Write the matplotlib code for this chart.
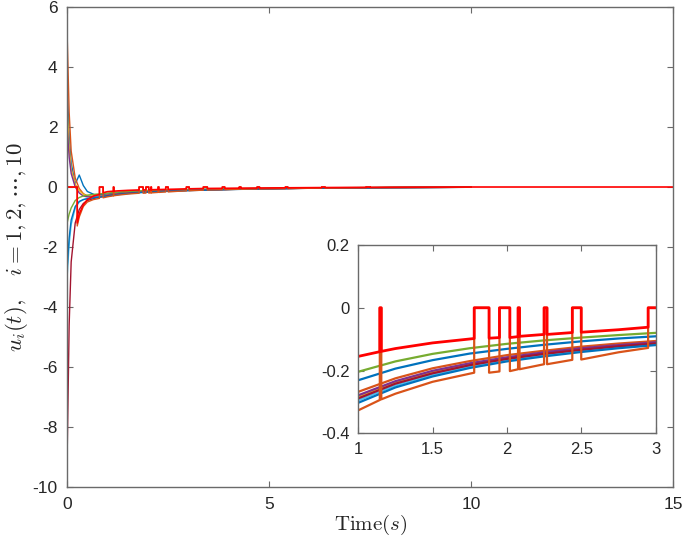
import numpy as np
import matplotlib
matplotlib.use("Agg")
import matplotlib.pyplot as plt

plt.rcParams['font.family'] = ['Liberation Sans', 'DejaVu Sans']
plt.rcParams['mathtext.fontset'] = 'cm'
plt.rcParams['axes.unicode_minus'] = False

# common time grid for the smooth agent inputs
t_grid = [0, 0.05, 0.1, 0.2, 0.3, 0.4, 0.5, 0.7, 1.0, 1.25, 1.5, 1.75, 2.0,
          2.25, 2.5, 2.75, 3.0, 4.0, 5.0, 6.0, 8.0, 10.0]

u_blue = [3.4, 1.7, 0.8, 0.1, 0.4, 0.05, -0.15, -0.27, -0.231, -0.194, -0.167, -0.146, -0.131,
          -0.118, -0.107, -0.098, -0.091, -0.065, -0.046, -0.032, -0.016, -0.007]
u_orange = [5.1, 2.5, 1.2, 0.3, -0.05, -0.22, -0.3, -0.32, -0.268, -0.225, -0.193, -0.170, -0.151,
            -0.137, -0.124, -0.114, -0.106, -0.075, -0.054, -0.038, -0.019, -0.008]
u_yellow = [2.6, 1.3, 0.6, 0.1, -0.12, -0.24, -0.3, -0.32, -0.284, -0.238, -0.205, -0.180, -0.160,
            -0.145, -0.132, -0.121, -0.112, -0.080, -0.057, -0.040, -0.020, -0.009]
u_purple = [2.0, 1.0, 0.45, 0.0, -0.2, -0.3, -0.33, -0.33, -0.279, -0.234, -0.201, -0.177, -0.158,
            -0.142, -0.129, -0.119, -0.110, -0.078, -0.056, -0.039, -0.020, -0.008]
u_green = [-1.2, -0.9, -0.7, -0.45, -0.35, -0.3, -0.27, -0.24, -0.204, -0.171, -0.147, -0.129, -0.115,
           -0.104, -0.095, -0.087, -0.080, -0.057, -0.041, -0.029, -0.014, -0.006]
u_lightblue = [-3.0, -1.9, -1.25, -0.7, -0.5, -0.42, -0.38, -0.34, -0.295, -0.248, -0.213, -0.187, -0.167,
               -0.150, -0.137, -0.126, -0.116, -0.083, -0.059, -0.041, -0.021, -0.009]
u_darkred = [-9.0, -4.6, -2.5, -1.2, -0.75, -0.55, -0.45, -0.37, -0.289, -0.242, -0.209, -0.183, -0.163,
             -0.147, -0.134, -0.123, -0.114, -0.081, -0.058, -0.040, -0.020, -0.009]
u_blue2 = [-2.7, -1.7, -1.1, -0.65, -0.48, -0.42, -0.39, -0.35, -0.303, -0.254, -0.219, -0.192, -0.171,
           -0.155, -0.141, -0.129, -0.119, -0.085, -0.061, -0.042, -0.021, -0.009]

# agents whose input is switched to zero on some intervals (read point by point)
t_orange2 = [0, 0.25, 0.25, 0.3, 0.4, 0.5, 0.65, 0.8, 0.8, 0.89, 0.89, 1.0, 1.145, 1.145, 1.155, 1.155,
             1.25, 1.5, 1.78, 1.78, 1.88, 1.88, 1.95, 1.95, 2.02, 2.02, 2.075, 2.075, 2.085, 2.085,
             2.25, 2.25, 2.27, 2.27, 2.44, 2.44, 2.5, 2.5, 2.75, 2.95, 2.95, 3.02, 3.02,
             3.37, 3.37, 3.47, 3.47, 3.84, 3.84, 3.9, 3.9, 4.26, 4.26, 4.3, 4.3, 4.7, 4.7, 4.76, 4.76,
             5.4, 5.4, 5.46, 5.46, 6.3, 6.3, 6.38, 6.38, 7.4, 7.4, 7.5, 7.5, 8.0, 10.0]
u_orange2 = [0, 0, -1.3, -1.0, -0.65, -0.5, -0.42, -0.38, 0, 0, -0.36, -0.327, -0.294, 0, 0, -0.292,
             -0.274, -0.236, -0.207, 0, 0, -0.207, -0.203, 0, 0, -0.202, -0.196, 0, 0, -0.196,
             -0.18, 0, 0, -0.18, -0.166, 0, 0, -0.165, -0.142, -0.128, 0, 0, -0.125,
             -0.105, 0, 0, -0.1, -0.088, 0, 0, -0.086, -0.076, 0, 0, -0.075, -0.066, 0, 0, -0.065,
             -0.052, 0, 0, -0.051, -0.038, 0, 0, -0.037, -0.025, 0, 0, -0.022, -0.018, -0.008]

t_red = [0, 0.25, 0.25, 0.3, 0.4, 0.5, 0.65, 0.8, 0.8, 0.89, 0.89, 1.0, 1.145, 1.145, 1.155, 1.155,
         1.25, 1.5, 1.78, 1.78, 1.88, 1.88, 1.95, 1.95, 2.02, 2.02, 2.075, 2.075, 2.085, 2.085,
         2.25, 2.25, 2.27, 2.27, 2.44, 2.44, 2.5, 2.5, 2.75, 2.95, 2.95, 3.02, 3.02,
         3.37, 3.37, 3.47, 3.47, 3.84, 3.84, 3.9, 3.9, 4.26, 4.26, 4.3, 4.3, 4.7, 4.7, 4.76, 4.76,
         5.4, 5.4, 5.46, 5.46, 6.3, 6.3, 6.38, 6.38, 7.4, 7.4, 7.5, 7.5, 9.0, 10.0, 15.0]
u_red = [0, 0, -1.2, -0.9, -0.6, -0.42, -0.3, -0.25, 0, 0, -0.19, -0.155, -0.14, 0, 0, -0.139,
         -0.13, -0.112, -0.098, 0, 0, -0.097, -0.095, 0, 0, -0.095, -0.092, 0, 0, -0.091,
         -0.085, 0, 0, -0.085, -0.079, 0, 0, -0.078, -0.07, -0.062, 0, 0, -0.06,
         -0.05, 0, 0, -0.048, -0.044, 0, 0, -0.043, -0.039, 0, 0, -0.038, -0.034, 0, 0, -0.033,
         -0.027, 0, 0, -0.026, -0.019, 0, 0, -0.018, -0.011, 0, 0, -0.01, -0.004, 0, 0]

smooth_series = [u_blue, u_orange, u_yellow, u_purple, u_green, u_lightblue, u_darkred, u_blue2]
smooth_colors = ['#0072BD', '#D95319', '#EDB120', '#7E2F8E', '#77AC30', '#4DBEEE', '#A2142F', '#0072BD']

txt_col = '#262626'
spine_col = '#6a6a6a'


def style_axes(ax, size, pad):
    for s in ax.spines.values():
        s.set_color(spine_col)
        s.set_linewidth(1.0)
    ax.tick_params(direction='in', top=True, right=True, length=4, width=0.8,
                   color=spine_col, labelcolor=txt_col, labelsize=size, pad=pad)


def draw(ax, lw, lw_red):
    for u, c in zip(smooth_series, smooth_colors):
        ax.plot(t_grid, u, color=c, lw=lw)
    ax.plot(t_orange2, u_orange2, color='#D95319', lw=lw)
    ax.plot(t_red, u_red, color='#FF0000', lw=lw_red)


fig = plt.figure(figsize=(6.85, 5.47), dpi=100)
ax = fig.add_axes([0.098, 0.110, 0.885, 0.877])
draw(ax, 1.0, 1.2)
ax.set_xlim(0, 15)
ax.set_ylim(-10, 6)
ax.set_xticks([0, 5, 10, 15])
ax.set_yticks(np.arange(-10, 7, 2))
style_axes(ax, 12.5, 7)
ax.set_xlabel(r'$\mathrm{Time}(s)$', fontsize=15, color=txt_col, labelpad=1)
ax.set_ylabel(r'$u_i(t),\quad i=1,2,\cdots,10$', fontsize=16.5, color=txt_col, labelpad=2)

axin = fig.add_axes([0.523, 0.208, 0.434, 0.344])
draw(axin, 1.6, 2.0)
axin.set_xlim(1, 3)
axin.set_ylim(-0.4, 0.2)
axin.set_xticks([1, 1.5, 2, 2.5, 3])
axin.set_xticklabels(['1', '1.5', '2', '2.5', '3'])
axin.set_yticks([-0.4, -0.2, 0, 0.2])
axin.set_yticklabels(['-0.4', '-0.2', '0', '0.2'])
style_axes(axin, 12, 6)

fig.savefig('out.png', dpi=100)
